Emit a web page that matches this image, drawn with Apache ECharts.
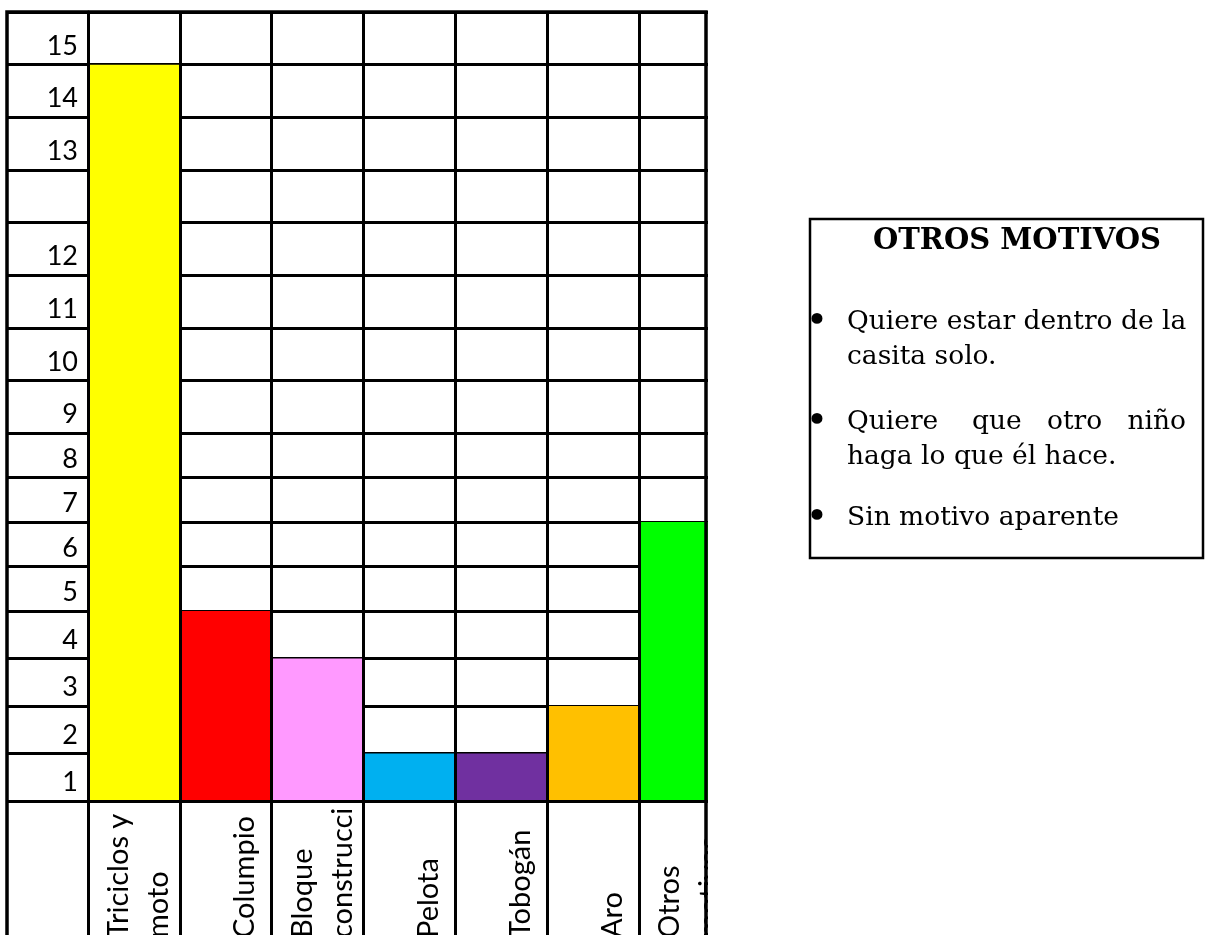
<!DOCTYPE html>
<html>
<head>
<meta charset="utf-8">
<title>Juegos</title>
<script src="https://cdn.jsdelivr.net/npm/echarts@6/dist/echarts.min.js"></script>
<style>
  html, body { margin: 0; padding: 0; background: #fff; }
  #main { width: 1206px; height: 935px; }
</style>
</head>
<body>
<div id="main"></div>
<script>
// datos del gráfico
const categories = ['Triciclos y\nmoto', 'Columpio', 'Bloque\nconstrucci', 'Pelota', 'Tobogán', 'Aro', 'Otros\nmotivos'];
const values = [14, 4, 3, 1, 1, 2, 6];
const barColors = ['#FFFF00', '#FF0000', '#FF99FF', '#00B0F0', '#7030A0', '#FFC000', '#00FF00'];
// filas de la tabla, de abajo hacia arriba (hay una fila sin número)
const rowLabels = ['1', '2', '3', '4', '5', '6', '7', '8', '9', '10', '11', '12', '', '13', '14', '15'];

const noteTitle = 'OTROS MOTIVOS';
const noteItems = [
  ['Quiere estar dentro de la', 'casita solo.'],
  ['Quiere    que   otro   niño', 'haga lo que él hace.'],
  ['Sin motivo aparente']
];

// las filas no tienen todas la misma altura: la tabla se arma en tramos
// [fila inicial, fila final, y arriba, y abajo] en píxeles
const bands = [
  [8, 16, 12, 433],
  [4, 8, 433, 611],
  [0, 4, 611, 801]
];

// cada valor ocupa tantas celdas como filas hasta su etiqueta
const rowsOf = v => rowLabels.indexOf(String(v)) + 1;
const barData = values.map((v, i) => ({ value: rowsOf(v), itemStyle: { color: barColors[i] } }));

const black = '#000';
const lineW = 3;

function xAxisFor(gridIndex, first, last) {
  return {
    type: 'category',
    gridIndex: gridIndex,
    data: categories,
    position: last ? 'bottom' : 'top',
    z: 5,
    axisLine: { show: first || last, lineStyle: { color: black, width: lineW } },
    axisTick: { show: last, length: 140, lineStyle: { color: black, width: lineW } },
    splitLine: { show: true, lineStyle: { color: black, width: lineW } },
    axisLabel: last ? {
      show: true,
      interval: 0,
      rotate: 90,
      align: 'left',
      verticalAlign: 'middle',
      margin: 137,
      padding: [10, 0, 0, 0],
      color: black,
      fontFamily: 'Lato',
      fontSize: 29,
      lineHeight: 40,
      formatter: v => v.indexOf('\n') >= 0 ? '{two|' + v + '}' : '{one|' + v + '}',
      rich: {
        one: { fontFamily: 'Lato', fontSize: 29, lineHeight: 40, color: black, padding: [28, 0, 0, 0] },
        two: { fontFamily: 'Lato', fontSize: 29, lineHeight: 40, color: black }
      }
    } : { show: false }
  };
}

function yAxisFor(gridIndex, min, max) {
  return {
    type: 'value',
    gridIndex: gridIndex,
    min: min,
    max: max,
    interval: 1,
    axisLine: { show: true, lineStyle: { color: black, width: lineW } },
    axisTick: { show: true, length: 81, lineStyle: { color: black, width: lineW } },
    splitLine: { show: true, lineStyle: { color: black, width: lineW } },
    axisLabel: {
      showMinLabel: true,
      showMaxLabel: true,
      margin: 10,
      verticalAlign: 'bottom',
      padding: [0, 0, 5, 0],
      color: black,
      fontFamily: 'Lato',
      fontSize: 27,
      formatter: v => {
        const k = Math.round(v);
        return k < max ? rowLabels[k] : '';
      }
    }
  };
}

const chart = echarts.init(document.getElementById('main'));

const option = {
  backgroundColor: '#fff',
  animation: false,
  grid: [],
  xAxis: [],
  yAxis: [],
  series: [],
  graphic: []
};

bands.forEach((b, i) => {
  option.grid.push({ left: 88, right: 475, top: b[2], height: b[3] - b[2], outerBoundsMode: 'none' });
  option.xAxis.push(xAxisFor(i, i === 0, i === bands.length - 1));
  option.yAxis.push(yAxisFor(i, b[0], b[1]));
  option.series.push({ type: 'bar', xAxisIndex: i, yAxisIndex: i, barWidth: '100%', clip: true, data: barData });
});

// la tabla queda cortada a la derecha
option.graphic.push({ type: 'rect', z: 100, shape: { x: 708, y: 0, width: 99, height: 935 }, style: { fill: '#fff' } });
option.graphic.push({ type: 'rect', z: 101, shape: { x: 7, y: 12, width: 699, height: 940 }, style: { fill: 'none', stroke: black, lineWidth: 3.5 } });

// cuadro de texto
const noteFont = '"DejaVu Serif", "Liberation Serif", serif';
option.graphic.push({ type: 'rect', z: 100, shape: { x: 810, y: 219, width: 393, height: 339 }, style: { fill: '#fff', stroke: black, lineWidth: 2.5 } });
option.graphic.push({
  type: 'text', z: 102, x: 1017, y: 241,
  style: { text: noteTitle, fontFamily: noteFont, fontSize: 29, fontWeight: 'bold', fill: black, align: 'center', verticalAlign: 'middle' }
});
let y = 322;
noteItems.forEach((lines, i) => {
  if (i > 0) y += 30;
  lines.forEach((line, j) => {
    if (j === 0) {
      option.graphic.push({
        type: 'text', z: 102, x: 817, y: y,
        style: { text: '•', fontFamily: noteFont, fontSize: 38, fill: black, align: 'center', verticalAlign: 'middle' }
      });
    }
    option.graphic.push({
      type: 'text', z: 102, x: 847, y: y,
      style: { text: line, fontFamily: noteFont, fontSize: 26.5, fill: black, align: 'left', verticalAlign: 'middle' }
    });
    y += 35;
  });
  if (i === 1) y -= 4;
});

chart.setOption(option);
</script>
</body>
</html>
